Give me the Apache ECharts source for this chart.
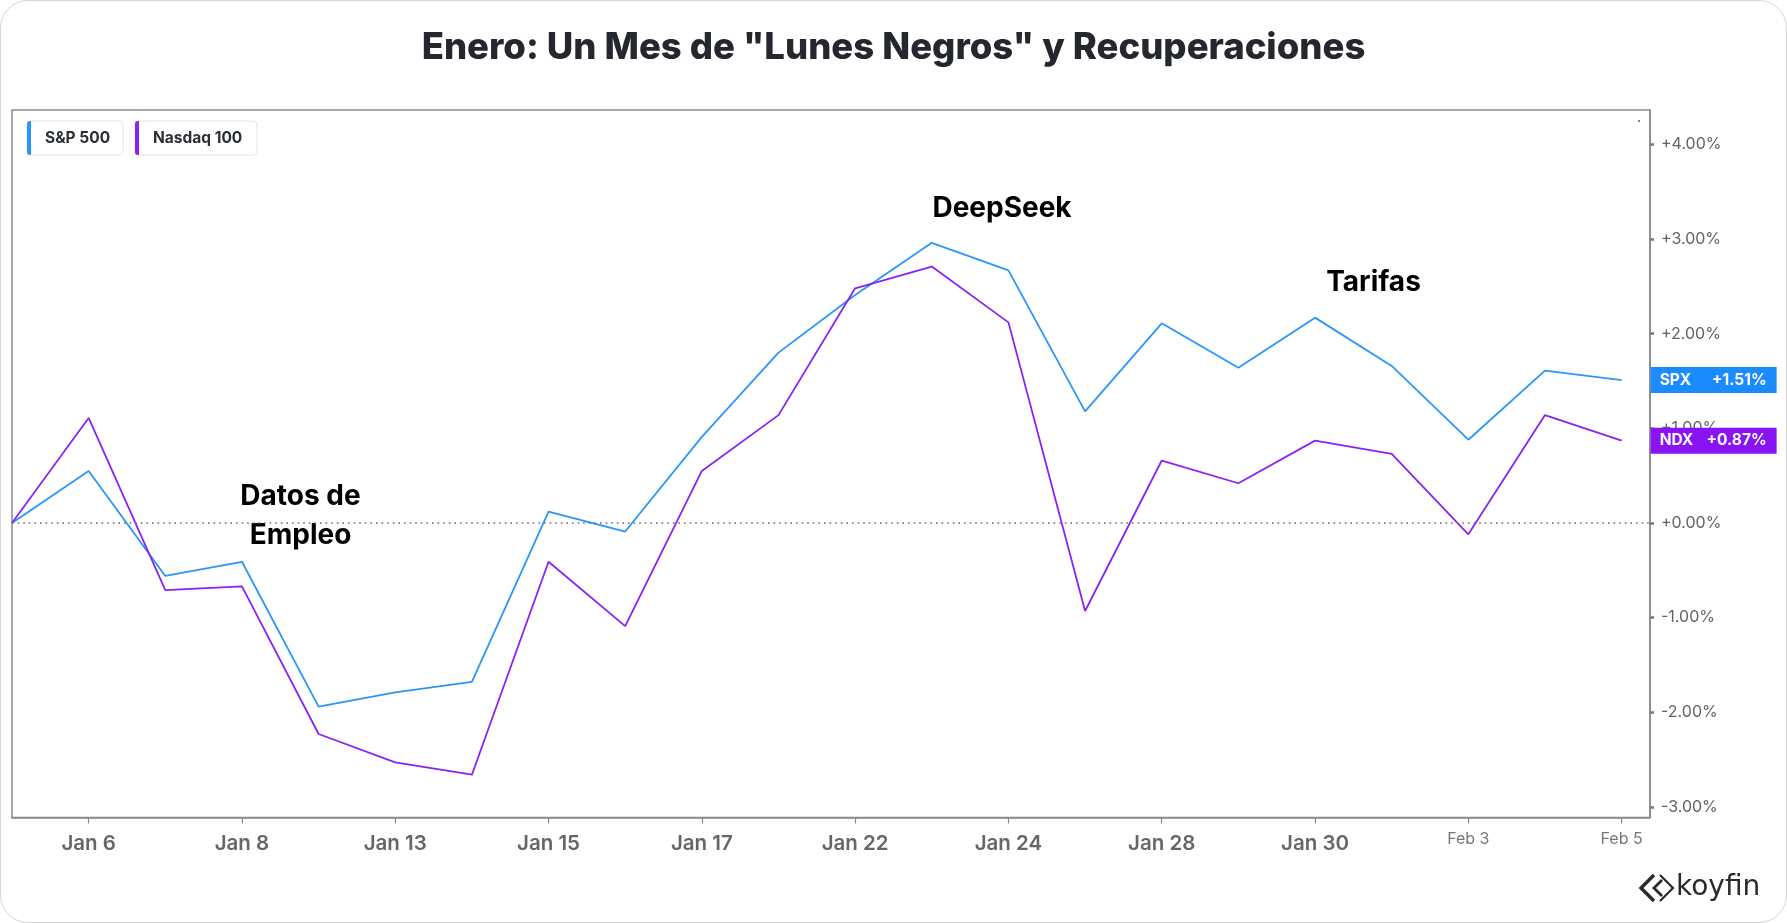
<!DOCTYPE html>
<html>
<head>
<meta charset="utf-8">
<script src="https://cdn.jsdelivr.net/npm/echarts@6/dist/echarts.min.js"></script>
<style>
  html, body { margin: 0; padding: 0; background: #ffffff; }
  #card { position: absolute; left: 0; top: 0; width: 1787px; height: 923px; box-sizing: border-box;
          border: 1.5px solid #d4d4d4; border-radius: 28px; background: #ffffff; }
  #chart { position: absolute; left: 0; top: 0; width: 1787px; height: 923px; }
</style>
</head>
<body>
<div id="card"></div>
<div id="chart"></div>
<script>
// ---------- data ----------
const titleText = 'Enero: Un Mes de "Lunes Negros" y Recuperaciones';
const dates = ['Jan 3','Jan 6','Jan 7','Jan 8','Jan 10','Jan 13','Jan 14','Jan 15','Jan 16','Jan 17',
               'Jan 21','Jan 22','Jan 23','Jan 24','Jan 27','Jan 28','Jan 29','Jan 30','Jan 31',
               'Feb 3','Feb 4','Feb 5'];
const spx = [0, 0.55, -0.56, -0.41, -1.94, -1.79, -1.68, 0.12, -0.09, 0.91,
             1.80, 2.41, 2.96, 2.67, 1.18, 2.11, 1.64, 2.17, 1.66,
             0.88, 1.61, 1.51];
const ndx = [0, 1.11, -0.71, -0.67, -2.23, -2.53, -2.66, -0.41, -1.09, 0.55,
             1.14, 2.48, 2.71, 2.12, -0.93, 0.66, 0.42, 0.87, 0.73,
             -0.12, 1.14, 0.87];
const seriesNames = ['S&P 500', 'Nasdaq 100'];
const tickers = ['SPX', 'NDX'];
const xTickLabels = ['Jan 6','Jan 8','Jan 13','Jan 15','Jan 17','Jan 22','Jan 24','Jan 28','Jan 30','Feb 3','Feb 5'];
const yTicks = [-3, -2, -1, 0, 1, 2, 3, 4];
const annotations = ['Datos de\nEmpleo', 'DeepSeek', 'Tarifas'];

// ---------- styles ----------
const BLUE = '#2a97f8', BLUE_LBL = '#1a8cff';
const PURPLE = '#8a22f5', PURPLE_LBL = '#8913f3';
const AXIS = '#8a8a8a';
const FONT = 'Inter, "Noto Sans", sans-serif';

const xTickIdx = xTickLabels.map(l => dates.indexOf(l));
const fmtPct = v => (v >= 0 ? '+' : '') + v.toFixed(2) + '%';

function endLbl(ticker, arr) {
  return '{a|' + ticker + '}{b|' + fmtPct(arr[arr.length - 1]) + '}';
}

function legendItem(x, w, color, name) {
  return {
    type: 'group', x: x, y: 121,
    children: [
      { type: 'rect', shape: { x: 0, y: 0, width: w, height: 34, r: 4 },
        style: { fill: '#ffffff', stroke: '#e4e4e4', lineWidth: 1 } },
      { type: 'rect', shape: { x: 0, y: 0, width: 4, height: 34, r: [3, 0, 0, 3] },
        style: { fill: color } },
      { type: 'text', x: 18, y: 17.5,
        style: { text: name, font: '700 15.5px ' + FONT, fill: '#2b2f36', verticalAlign: 'middle' } }
    ]
  };
}

const chart = echarts.init(document.getElementById('chart'), null, { renderer: 'canvas' });

const lineSeries = (name, arr, color, lblColor, ticker, extra) => Object.assign({
  name: name, type: 'line',
  data: arr.map((v, i) => [i, v]),
  showSymbol: false, symbol: 'none',
  lineStyle: { color: color, width: 1.8 },
  itemStyle: { color: color },
  clip: false,
  z: 3,
  endLabel: {
    show: true, distance: 29,
    formatter: () => endLbl(ticker, arr),
    backgroundColor: lblColor, padding: [5, 10, 5, 9],
    rich: {
      a: { color: '#fff', fontFamily: FONT, fontWeight: 700, fontSize: 15.5, lineHeight: 16, width: 47, align: 'left' },
      b: { color: '#fff', fontFamily: FONT, fontWeight: 700, fontSize: 15.5, lineHeight: 16, width: 60, align: 'right' }
    }
  }
}, extra || {});

chart.setOption({
  animation: false,
  title: {
    text: titleText, left: 'center', top: 25,
    textStyle: { fontFamily: FONT, fontWeight: 800, fontSize: 36.5, lineHeight: 37, color: '#24272e' }
  },
  grid: {
    left: 12, right: 137, top: 110, bottom: 105.5,
    show: true, borderColor: AXIS, borderWidth: 1.5, backgroundColor: 'transparent'
  },
  xAxis: {
    type: 'value', min: 0, max: 21.37,
    axisLine: { show: true, onZero: false, lineStyle: { color: AXIS, width: 1.5 } },
    splitLine: { show: false },
    axisTick: { show: true, customValues: xTickIdx, length: 6, lineStyle: { color: AXIS, width: 1.2 } },
    axisLabel: {
      customValues: xTickIdx, margin: 13,
      formatter: v => {
        const l = dates[Math.round(v)];
        return l.indexOf('Feb') === 0 ? '{f|' + l + '}' : '{j|' + l + '}';
      },
      rich: {
        j: { fontFamily: FONT, fontWeight: 600, fontSize: 20.5, lineHeight: 27, color: '#666666' },
        f: { fontFamily: FONT, fontWeight: 400, fontSize: 16, lineHeight: 18, color: '#777777' }
      }
    }
  },
  yAxis: {
    type: 'value', position: 'right', min: -3.112, max: 4.364,
    axisLine: { show: true, onZero: false, lineStyle: { color: AXIS, width: 1.5 } },
    splitLine: { show: false },
    axisTick: { show: true, customValues: yTicks, length: 4, lineStyle: { color: '#777', width: 2.5 } },
    axisLabel: {
      customValues: yTicks, margin: 11,
      fontFamily: FONT, fontSize: 16, color: '#636363',
      formatter: v => fmtPct(v)
    }
  },
  series: [
    lineSeries(seriesNames[0], spx, BLUE, BLUE_LBL, tickers[0], {
      markLine: {
        silent: true, symbol: 'none', label: { show: false },
        lineStyle: { color: '#6f6f6f', type: [1.6, 4], width: 1.6 },
        data: [{ yAxis: 0 }]
      }
    }),
    lineSeries(seriesNames[1], ndx, PURPLE, PURPLE_LBL, tickers[1])
  ],
  graphic: [
    legendItem(27, 96, BLUE, seriesNames[0]),
    legendItem(135, 122, PURPLE, seriesNames[1]),
    { type: 'circle', shape: { cx: 1639, cy: 121, r: 1 }, style: { fill: '#555' } },
    { type: 'text', x: 300.5, y: 516.5,
      style: { text: annotations[0], font: '700 28px ' + FONT, fill: '#000', align: 'center', verticalAlign: 'middle', lineHeight: 39 } },
    { type: 'text', x: 1002, y: 209,
      style: { text: annotations[1], font: '700 28px ' + FONT, fill: '#000', align: 'center', verticalAlign: 'middle' } },
    { type: 'text', x: 1373.5, y: 283,
      style: { text: annotations[2], font: '700 28px ' + FONT, fill: '#000', align: 'center', verticalAlign: 'middle' } },
    // koyfin logo mark
    { type: 'polyline', shape: { points: [[1654, 875], [1641, 888], [1654, 901]] },
      style: { stroke: '#2a2a2a', lineWidth: 3.4, fill: null, lineJoin: 'miter' } },
    { type: 'polyline', shape: { points: [[1662, 880], [1654, 888], [1662, 896]] },
      style: { stroke: '#2a2a2a', lineWidth: 2.8, fill: null } },
    { type: 'polyline', shape: { points: [[1660, 875], [1673, 888], [1660, 901]] },
      style: { stroke: '#2a2a2a', lineWidth: 2.2, fill: null } },
    { type: 'text', x: 1676, y: 888,
      style: { text: 'koyfin', font: '400 28px "DejaVu Sans", sans-serif', fill: '#2a2a2a', verticalAlign: 'middle' } }
  ]
});
</script>
</body>
</html>
